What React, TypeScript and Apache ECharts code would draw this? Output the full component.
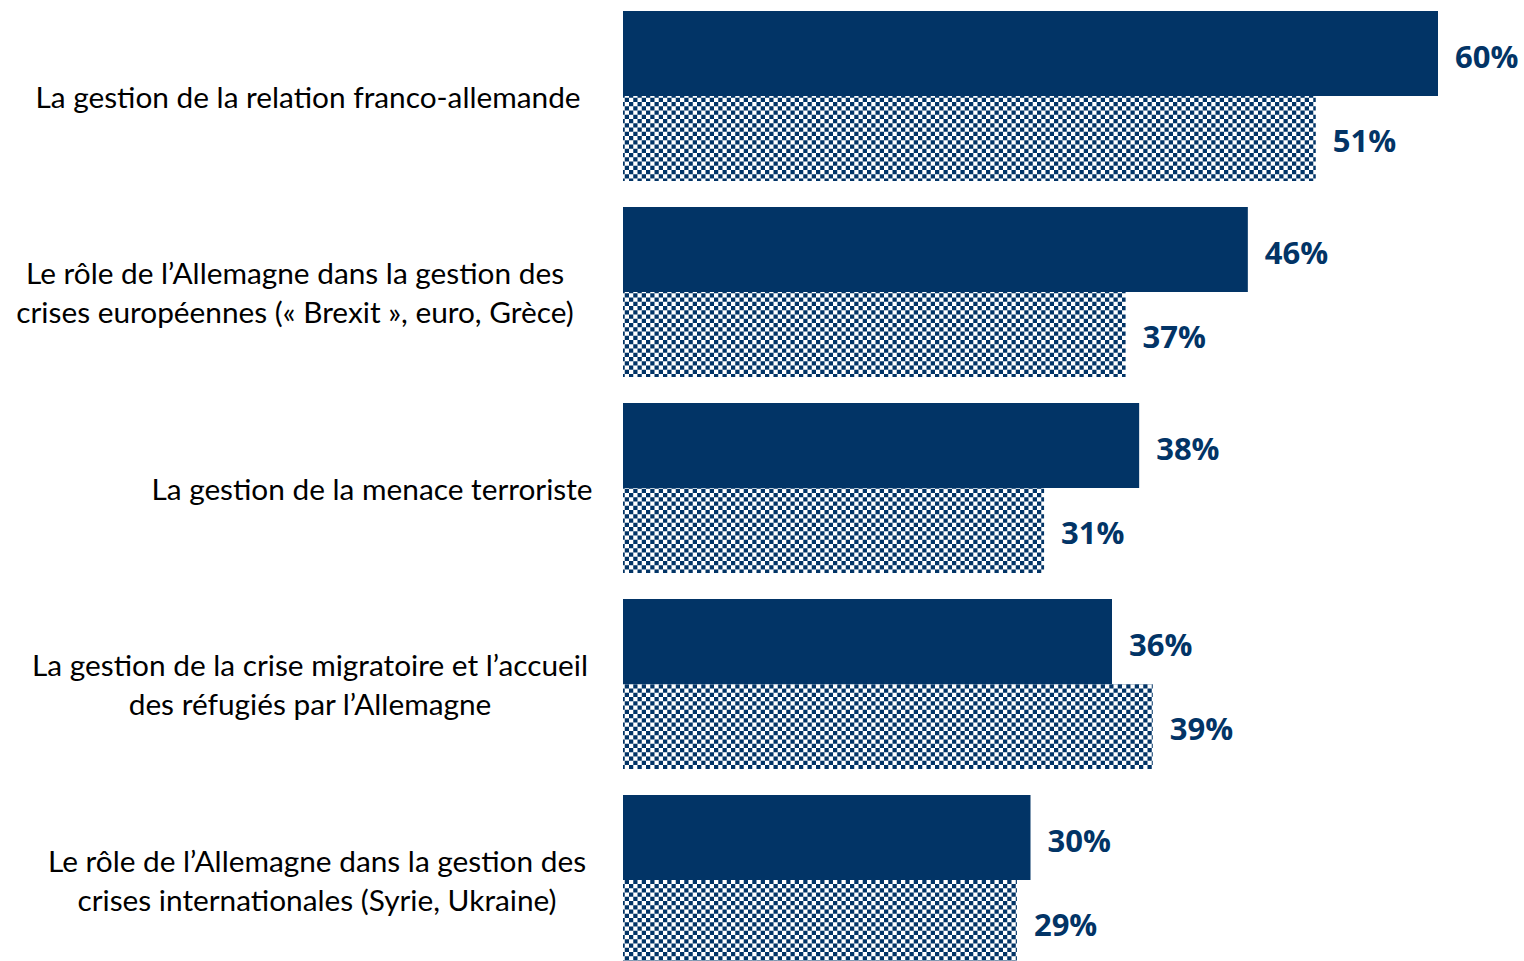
import React, { useEffect, useRef } from "react";
import * as echarts from "echarts";

const categories = [
  "La gestion de la relation franco-allemande",
  "Le rôle de l’Allemagne dans la gestion des\ncrises européennes (« Brexit », euro, Grèce)",
  "La gestion de la menace terroriste",
  "La gestion de la crise migratoire et l’accueil\ndes réfugiés par l’Allemagne",
  "Le rôle de l’Allemagne dans la gestion des\ncrises internationales (Syrie, Ukraine)",
];
const solidValues = [60, 46, 38, 36, 30];
const checkerValues = [51, 37, 31, 39, 29];

// label box widths used to reproduce the original text-box centring
const labelWidths = [584, 610, 456, 580, 566];

const NAVY = "#023466";

function makeChecker(): string {
  const svg =
    '<svg xmlns="http://www.w3.org/2000/svg" width="17" height="17">' +
    '<rect width="17" height="17" fill="#ffffff"/>' +
    `<rect x="0" y="0" width="4.25" height="4.25" fill="${NAVY}"/>` +
    `<rect x="8.5" y="0" width="4.25" height="4.25" fill="${NAVY}"/>` +
    `<rect x="4.25" y="4.25" width="4.25" height="4.25" fill="${NAVY}"/>` +
    `<rect x="12.75" y="4.25" width="4.25" height="4.25" fill="${NAVY}"/>` +
    `<rect x="0" y="8.5" width="4.25" height="4.25" fill="${NAVY}"/>` +
    `<rect x="8.5" y="8.5" width="4.25" height="4.25" fill="${NAVY}"/>` +
    `<rect x="4.25" y="12.75" width="4.25" height="4.25" fill="${NAVY}"/>` +
    `<rect x="12.75" y="12.75" width="4.25" height="4.25" fill="${NAVY}"/>` +
    "</svg>";
  return "data:image/svg+xml;charset=utf-8," + encodeURIComponent(svg);
}

export default function App() {
  const ref = useRef<HTMLDivElement>(null);
  useEffect(() => {
    if (!ref.current) return;
    const chart = echarts.init(ref.current, undefined, { renderer: "svg" });
    const rich: Record<string, any> = {};
    labelWidths.forEach((w, i) => {
      rich["l" + i] = {
        width: w,
        align: "center",
        fontSize: 29.8,
        lineHeight: 39,
        color: "#000",
        fontFamily: "Lato",
      };
    });
    const labelStyle = {
      show: true,
      position: "right" as const,
      distance: 17,
      color: NAVY,
      fontWeight: "bold" as const,
      fontSize: 31,
      fontFamily: "Open Sans",
      formatter: "{c}%",
      offset: [0, 2],
    };
    chart.setOption({
      animation: false,
      grid: {
        left: 623,
        top: -2,
        width: 815,
        height: 980,
        containLabel: false,
        outerBoundsMode: "none",
      },
      xAxis: {
        type: "value",
        min: 0,
        max: 60,
        show: false,
      },
      yAxis: {
        type: "category",
        inverse: true,
        data: categories,
        axisLine: { show: false },
        axisTick: { show: false },
        axisLabel: {
          margin: 23,
          align: "right",
          rich,
          formatter: (v: string) => {
            const i = categories.indexOf(v);
            return v
              .split("\n")
              .map((line) => `{l${i}|${line}}`)
              .join("\n");
          },
        },
      },
      series: [
        {
          type: "bar",
          data: solidValues,
          barGap: "0%",
          barCategoryGap: "13.27%",
          itemStyle: { color: NAVY },
          label: labelStyle,
        },
        {
          type: "bar",
          data: checkerValues,
          itemStyle: { color: { image: makeChecker(), repeat: "repeat" } as any },
          label: labelStyle,
        },
      ],
    });
    return () => chart.dispose();
  }, []);
  return (
    <div
      ref={ref}
      style={{ position: "fixed", left: 0, top: 0, width: 1524, height: 961, background: "#fff" }}
    />
  );
}
